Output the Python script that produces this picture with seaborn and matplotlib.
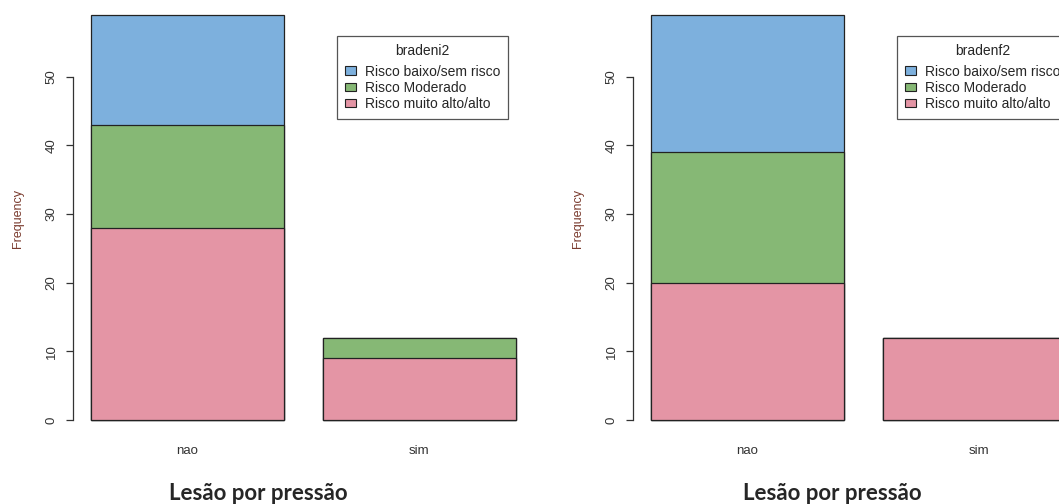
import matplotlib
matplotlib.use("Agg")
import matplotlib.pyplot as plt
from matplotlib.patches import Patch
import pandas as pd
import seaborn as sns

# Pressure injury (nao / sim) broken down by Braden risk group
categories = ["nao", "sim"]
risk_levels = ["Risco muito alto/alto", "Risco Moderado", "Risco baixo/sem risco"]
risk_colors = ["#E495A5", "#86B875", "#7DB0DD"]

# bradeni2 (initial Braden score)
bradeni2_alto = [28, 9]
bradeni2_moderado = [15, 3]
bradeni2_baixo = [16, 0]

# bradenf2 (final Braden score)
bradenf2_alto = [20, 12]
bradenf2_moderado = [19, 0]
bradenf2_baixo = [20, 0]

x_title = "Lesão por pressão"
y_label = "Frequency"

sns.set_style("white")
plt.rcParams["font.family"] = ["Liberation Sans", "DejaVu Sans"]

W, H = 1059, 504
fig = plt.figure(figsize=(W / 100, H / 100), dpi=100)

BAR_W = 1 / 1.2           # bar width with 0.2 spacing between bars
UNIT = 193 / BAR_W        # pixels per category step


def add_panel(left_px, right_px, counts, legend_title, title_center_px):
    ax = fig.add_axes([left_px / W, (H - 425) / H,
                       (right_px - left_px) / W, 415 / H])

    # stacked bars: draw cumulative totals from the top segment down
    cum = []
    running = [0, 0]
    for vals in counts:
        running = [r + v for r, v in zip(running, vals)]
        cum.append(list(running))
    for level_idx in reversed(range(len(counts))):
        df = pd.DataFrame({"cat": categories, "n": cum[level_idx]})
        sns.barplot(data=df, x="cat", y="n", order=categories,
                    color=risk_colors[level_idx], saturation=1,
                    width=BAR_W, edgecolor="#222222", linewidth=0.9,
                    ax=ax, errorbar=None)

    x0 = -BAR_W / 2 - 18 / UNIT
    ax.set_xlim(x0, x0 + (right_px - left_px) / UNIT)
    ax.set_ylim(-5 / 6.86, 59 + 5 / 6.86)

    for s in ["top", "right", "bottom"]:
        ax.spines[s].set_visible(False)
    ax.spines["left"].set_bounds(0, 50)
    ax.spines["left"].set_color("#333333")
    ax.spines["left"].set_linewidth(0.9)
    ax.set_yticks([0, 10, 20, 30, 40, 50])
    ax.tick_params(axis="y", direction="out", length=5, width=0.9,
                   color="#333333", pad=6, labelsize=9.5, labelcolor="#333333",
                   left=True)
    for lab in ax.get_yticklabels():
        lab.set_rotation(90)
        lab.set_va("center")
    ax.tick_params(axis="x", length=0, pad=14.5, labelsize=9.5,
                   labelcolor="#333333")
    ax.set_xlabel("")
    ax.set_ylabel("")
    ax.grid(False)

    fig.text((left_px - 55) / W, (H - 218) / H, y_label, rotation=90,
             ha="center", va="center", fontsize=9, color="#7a3b2e")

    handles = [Patch(facecolor=risk_colors[i], edgecolor="#222222",
                     linewidth=0.8, label=risk_levels[i])
               for i in reversed(range(len(risk_levels)))]
    leg_left = 264 / (right_px - left_px)
    leg_top = (425 - 36) / 415
    leg = ax.legend(handles=handles, title=legend_title,
                    loc="upper left", bbox_to_anchor=(leg_left, leg_top),
                    borderaxespad=0, fancybox=False, framealpha=1,
                    edgecolor="#555555", fontsize=10, title_fontsize=10,
                    handlelength=0.75, handleheight=0.55, handletextpad=0.65,
                    labelspacing=0.15, borderpad=0.6)
    leg._legend_box.sep = 4.5
    leg.get_frame().set_linewidth(0.9)

    fig.text(title_center_px / W, (H - 493) / H, x_title, ha="center",
             va="center", fontsize=16, fontweight="bold",
             family=["Lato", "DejaVu Sans"])
    return ax


add_panel(73, 540,
          [bradeni2_alto, bradeni2_moderado, bradeni2_baixo],
          "bradeni2", 258)
add_panel(633, 1059,
          [bradenf2_alto, bradenf2_moderado, bradenf2_baixo],
          "bradenf2", 832)

fig.savefig("out.png", dpi=100)
